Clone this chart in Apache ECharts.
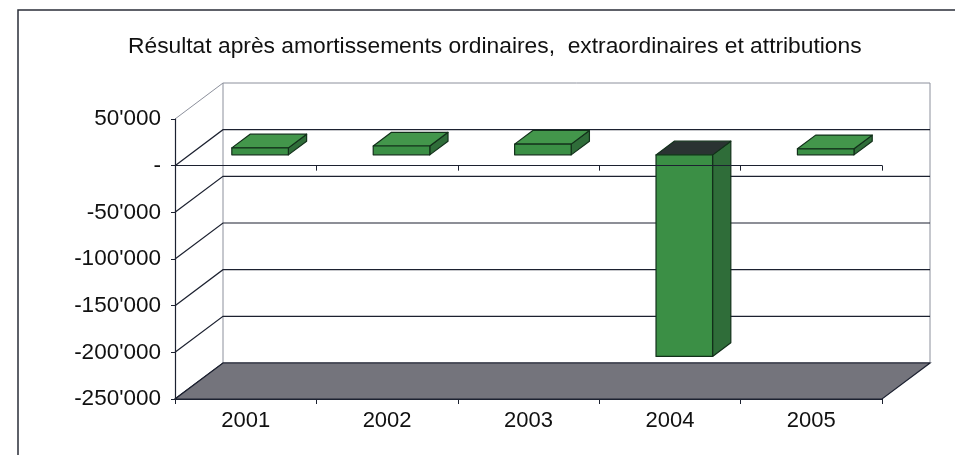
<!DOCTYPE html>
<html>
<head>
<meta charset="utf-8">
<title>Résultat</title>
<script src="https://cdn.jsdelivr.net/npm/echarts@6.0.0/dist/echarts.min.js"></script>
<style>
	html, body { margin: 0; padding: 0; background: #fff; }
	#chart1 { width: 955px; height: 455px; }
</style>
</head>
<body>
<div id="chart1"></div>
<script>
var years = ['2001', '2002', '2003', '2004', '2005'];
var resultValues = [7500, 9500, 11500, -216000, 6500];
var yTicks = [50000, 0, -50000, -100000, -150000, -200000, -250000];
var yTickLabels = ["50'000", "-", "-50'000", "-100'000", "-150'000", "-200'000", "-250'000"];
var titleText = 'Résultat après amortissements ordinaires,  extraordinaires et attributions';

// fausse profondeur 3D (décalage du plan arrière)
var DX = 48,
	DY = -36,
	BAR_FRONT = 0.3,
	BAR_BACK = 0.68,
	BAR_HALF = 0.2;

var lineColor = '#1c2130';
var fontName = '"Liberation Sans", Arial, sans-serif';

function renderWall(params, api) {
	var cs = params.coordSys;
	var y = api.coord([0, api.value(1)])[1];
	var x0 = cs.x,
		x1 = cs.x + cs.width;
	var isTop = params.dataIndex === 0;
	var children = [{
		type: 'polyline',
		shape: { points: [[x0, y], [x0 + DX, y + DY], [x1 + DX, y + DY]] },
		style: { fill: null, stroke: isTop ? '#8c909c' : lineColor, lineWidth: isTop ? 1 : 1.2 }
	}];
	if(isTop) {
		var yb = api.coord([0, yTicks[yTicks.length - 1]])[1];
		children.push({
			type: 'line',
			shape: { x1: x0 + DX, y1: y + DY, x2: x0 + DX, y2: yb + DY },
			style: { stroke: '#8c909c', lineWidth: 1 }
		}, {
			type: 'line',
			shape: { x1: x1 + DX, y1: y + DY, x2: x1 + DX, y2: yb + DY },
			style: { stroke: '#8c909c', lineWidth: 1 }
		});
	}
	return { type: 'group', children: children };
}

function renderFloor(params, api) {
	var cs = params.coordSys;
	var y = api.coord([0, api.value(1)])[1];
	var x0 = cs.x,
		x1 = cs.x + cs.width;
	return {
		type: 'polygon',
		shape: { points: [[x0, y], [x1, y], [x1 + DX, y + DY], [x0 + DX, y + DY]] },
		style: { fill: '#74747c', stroke: lineColor, lineWidth: 1.2 }
	};
}

function renderBar(params, api) {
	var i = api.value(0),
		v = api.value(1);
	var base = api.coord([i, 0]),
		end = api.coord([i, v]);
	var hw = api.size([1, 0])[0] * BAR_HALF;
	var fx = DX * BAR_FRONT,
		fy = DY * BAR_FRONT,
		dx = DX * (BAR_BACK - BAR_FRONT),
		dy = DY * (BAR_BACK - BAR_FRONT);
	var xl = base[0] - hw + fx,
		xr = base[0] + hw + fx,
		yHi = Math.min(base[1], end[1]) + fy,
		yLo = Math.max(base[1], end[1]) + fy;
	var edge = { stroke: '#12301a', lineWidth: 1.2, lineJoin: 'round' };
	return {
		type: 'group',
		children: [{
			type: 'polygon',
			shape: { points: [[xr, yHi], [xr + dx, yHi + dy], [xr + dx, yLo + dy], [xr, yLo]] },
			style: Object.assign({ fill: '#2f6d39' }, edge)
		}, {
			type: 'polygon',
			shape: { points: [[xl, yHi], [xr, yHi], [xr + dx, yHi + dy], [xl + dx, yHi + dy]] },
			style: Object.assign({ fill: v < 0 ? '#2a3332' : '#43964b' }, edge)
		}, {
			type: 'rect',
			shape: { x: xl, y: yHi, width: xr - xl, height: yLo - yHi },
			style: Object.assign({ fill: '#3b8f45' }, edge)
		}]
	};
}

function chart1() {
	var myChart = echarts.init(document.getElementById('chart1'));
	var option = {
		animation: false,
		backgroundColor: '#fff',
		title: {
			text: titleText,
			left: 128,
			top: 35,
			padding: 0,
			textStyle: {
				fontFamily: fontName,
				fontSize: 22.8,
				fontWeight: 'normal',
				color: '#111'
			}
		},
		graphic: [{
			type: 'rect',
			shape: { x: 18, y: 10, width: 1000, height: 500 },
			style: { fill: null, stroke: '#2a2e38', lineWidth: 1.5 },
			silent: true
		}],
		grid: {
			left: 175,
			right: 73,
			top: 119,
			bottom: 56
		},
		xAxis: [{
			type: 'category',
			data: years,
			position: 'bottom',
			axisLine: { onZero: false, lineStyle: { color: lineColor, width: 1.2 } },
			axisTick: { show: true, length: 5, lineStyle: { color: lineColor } },
			axisLabel: {
				margin: 11,
				fontFamily: fontName,
				fontSize: 22,
				color: '#111'
			},
			splitLine: { show: false },
			z: 10
		}, {
			type: 'category',
			data: years,
			position: 'bottom',
			axisLine: { onZero: true, lineStyle: { color: lineColor, width: 1.2 } },
			axisTick: { show: true, length: 5, lineStyle: { color: lineColor } },
			axisLabel: { show: false },
			splitLine: { show: false },
			z: 10
		}],
		yAxis: {
			type: 'value',
			min: yTicks[yTicks.length - 1],
			max: yTicks[0],
			interval: 50000,
			axisLine: { show: true, lineStyle: { color: lineColor, width: 1.2 } },
			axisTick: { show: true, length: 4, lineStyle: { color: lineColor } },
			axisLabel: {
				margin: 14,
				fontFamily: fontName,
				fontSize: 22.5,
				color: '#111',
				formatter: function(val) {
					var k = yTicks.indexOf(val);
					return k >= 0 ? yTickLabels[k] : '';
				}
			},
			splitLine: { show: false },
			z: 10
		},
		series: [{
			type: 'custom',
			name: 'murs',
			renderItem: renderWall,
			data: yTicks.map(function(v) { return [0, v]; }),
			silent: true,
			z: 1
		}, {
			type: 'custom',
			name: 'sol',
			renderItem: renderFloor,
			data: [[0, yTicks[yTicks.length - 1]]],
			silent: true,
			z: 1
		}, {
			type: 'custom',
			name: 'Résultat',
			renderItem: renderBar,
			data: resultValues.map(function(v, i) { return [i, v]; }),
			z: 2
		}]
	};
	myChart.setOption(option);
}

chart1();
</script>
</body>
</html>
